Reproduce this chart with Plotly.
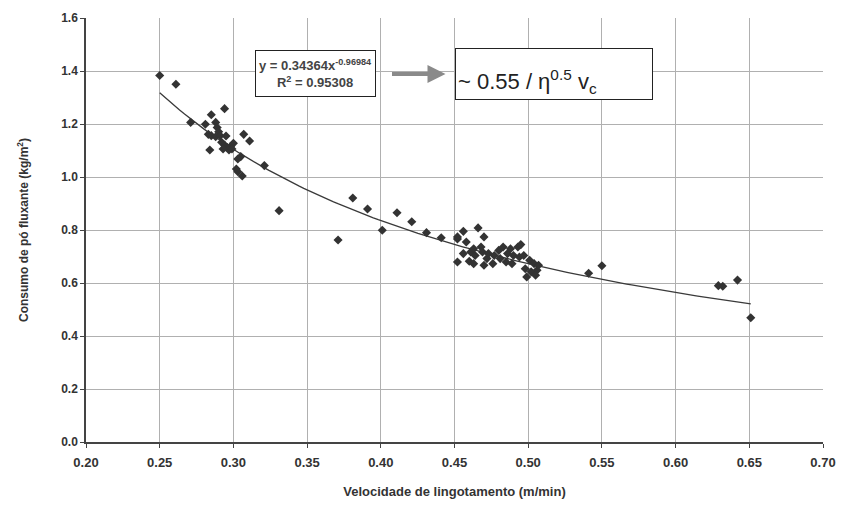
import numpy as np
import plotly.graph_objects as go

# Measured points: casting speed (m/min) vs mould powder consumption (kg/m2)
speed = [0.250, 0.261, 0.271, 0.294, 0.285, 0.281, 0.288, 0.289, 0.290, 0.283,
         0.285, 0.288, 0.291, 0.295, 0.307, 0.311, 0.292, 0.294, 0.296, 0.298,
         0.300, 0.297, 0.284, 0.293, 0.299, 0.305, 0.303, 0.321, 0.302, 0.303,
         0.306,
         0.331, 0.371, 0.381, 0.391, 0.401, 0.411, 0.421, 0.431, 0.441,
         0.452, 0.456, 0.466, 0.470, 0.452, 0.458, 0.456, 0.461, 0.463, 0.468,
         0.469, 0.464, 0.452, 0.460, 0.463, 0.472, 0.473, 0.477, 0.480, 0.483,
         0.481, 0.486, 0.488, 0.493, 0.495, 0.490, 0.476, 0.470, 0.485, 0.489,
         0.494, 0.497, 0.501, 0.504, 0.498, 0.502, 0.506, 0.499, 0.505, 0.507,
         0.541, 0.550, 0.629, 0.632, 0.642, 0.651]
consumption = [1.383, 1.350, 1.206, 1.258, 1.235, 1.199, 1.206, 1.187, 1.171, 1.161,
               1.156, 1.152, 1.156, 1.155, 1.161, 1.136, 1.131, 1.121, 1.111, 1.114,
               1.127, 1.102, 1.102, 1.106, 1.106, 1.077, 1.068, 1.043, 1.030, 1.020,
               1.004,
               0.873, 0.762, 0.921, 0.879, 0.799, 0.865, 0.831, 0.790, 0.771,
               0.766, 0.795, 0.808, 0.774, 0.774, 0.755, 0.711, 0.717, 0.729, 0.736,
               0.717, 0.704, 0.679, 0.682, 0.673, 0.692, 0.711, 0.704, 0.723, 0.736,
               0.692, 0.711, 0.729, 0.736, 0.745, 0.704, 0.673, 0.667, 0.679, 0.673,
               0.698, 0.704, 0.686, 0.673, 0.654, 0.642, 0.648, 0.623, 0.629, 0.667,
               0.637, 0.665, 0.590, 0.588, 0.611, 0.469]

# Power trendline as printed on the chart: y = A * x^B
fit_a = 0.34364
fit_b = -0.96984
fit_r2 = 0.95308

x_ticks = [0.20, 0.25, 0.30, 0.35, 0.40, 0.45, 0.50, 0.55, 0.60, 0.65, 0.70]
y_ticks = [0.0, 0.2, 0.4, 0.6, 0.8, 1.0, 1.2, 1.4, 1.6]

trend_x = np.linspace(min(speed), max(speed), 120)
trend_y = fit_a * trend_x ** fit_b

fig = go.Figure()
fig.add_trace(go.Scatter(
    x=trend_x, y=trend_y, mode="lines",
    line=dict(color="#3a3a3a", width=1.3), hoverinfo="skip", showlegend=False))
fig.add_trace(go.Scatter(
    x=speed, y=consumption, mode="markers",
    marker=dict(symbol="diamond", size=7, color="#333333"),
    showlegend=False))

narrow = "Liberation Sans Narrow, Liberation Sans, Arial, sans-serif"
sans = "Liberation Sans, Arial, sans-serif"

fig.update_layout(
    width=843, height=505,
    margin=dict(l=86, r=20, t=18, b=63),
    paper_bgcolor="white", plot_bgcolor="white",
    xaxis=dict(
        range=[0.20, 0.70], tickvals=x_ticks,
        ticktext=[f"{v:.2f}" for v in x_ticks],
        tickfont=dict(family=narrow, size=13, color="#333333", weight="bold"),
        ticklabelstandoff=4,
        automargin=False,
        showgrid=True, gridcolor="#b0b0b0", gridwidth=1,
        showline=True, linecolor="#444444", linewidth=1.5,
        ticks="outside", ticklen=4, tickcolor="#444444",
        zeroline=False,
        title=dict(text="Velocidade de lingotamento (m/min)",
                   font=dict(family=narrow, size=13, color="#333333", weight="bold"),
                   standoff=18),
    ),
    yaxis=dict(
        range=[0.0, 1.6], tickvals=y_ticks,
        ticktext=[f"{v:.1f}" for v in y_ticks],
        tickfont=dict(family=sans, size=12, color="#333333", weight="bold"),
        automargin=False,
        showgrid=True, gridcolor="#b0b0b0", gridwidth=1,
        showline=True, linecolor="#444444", linewidth=1.5,
        ticks="outside", ticklen=4, tickcolor="#444444",
        zeroline=False,
        title=dict(text="Consumo de pó fluxante (kg/m<sup>2</sup>)",
                   font=dict(family=sans, size=12, color="#333333", weight="bold"),
                   standoff=30),
    ),
)

# Equation box
fig.add_annotation(
    x=0.3559, y=1.389, xref="x", yref="y",
    text=(f"y = {fit_a}x<sup>{fit_b}</sup><br>"
          f"R<sup>2</sup> = {fit_r2}"),
    showarrow=False, align="center",
    font=dict(family=sans, size=13, color="#444444", weight="bold"),
    bgcolor="white", bordercolor="#222222", borderwidth=1,
    width=117, height=43, borderpad=1)

# Arrow
fig.add_annotation(
    x=0.4439, y=1.389, xref="x", yref="y",
    ax=-55, ay=0, text="", showarrow=True,
    arrowhead=2, arrowsize=0.9, arrowwidth=4, arrowcolor="#8a8a8a")

# Approximation box
fig.add_annotation(
    x=0.5176, y=1.389, xref="x", yref="y",
    text="~ 0.55 / η<sup>0.5</sup> v<sub>c</sub>",
    showarrow=False, align="left", valign="bottom",
    font=dict(family=sans, size=22, color="#222222"),
    bgcolor="white", bordercolor="#222222", borderwidth=1,
    width=192, height=46, borderpad=2)

fig.write_html("out.html")
